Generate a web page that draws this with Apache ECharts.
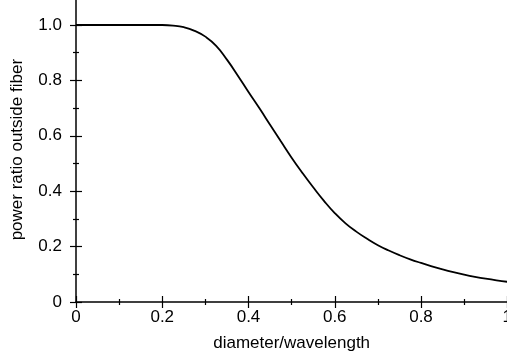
<!DOCTYPE html>
<html>
<head>
<meta charset="utf-8">
<script src="https://cdn.jsdelivr.net/npm/echarts@6/dist/echarts.min.js"></script>
<style>
html,body{margin:0;padding:0;background:#fff;}
#chart{width:507px;height:358px;}
</style>
</head>
<body>
<div id="chart"></div>
<script>
var xValues = [0, 0.05, 0.1, 0.15, 0.2, 0.225, 0.25, 0.275, 0.3, 0.325, 0.35, 0.375, 0.4, 0.425, 0.45, 0.475, 0.5, 0.525, 0.55, 0.575, 0.6, 0.625, 0.65, 0.675, 0.7, 0.725, 0.75, 0.775, 0.8, 0.825, 0.85, 0.875, 0.9, 0.925, 0.95, 0.975, 1.0];
var yValues = [1, 1, 1, 1, 1.0, 0.998, 0.992, 0.979, 0.958, 0.925, 0.875, 0.818, 0.758, 0.700, 0.640, 0.580, 0.521, 0.466, 0.414, 0.365, 0.321, 0.284, 0.254, 0.228, 0.205, 0.186, 0.169, 0.154, 0.141, 0.129, 0.118, 0.108, 0.099, 0.091, 0.084, 0.078, 0.073];
var xTickLabels = ['0', '0.2', '0.4', '0.6', '0.8', '1'];
var yTickLabels = ['0', '0.2', '0.4', '0.6', '0.8', '1.0'];
var xTitle = 'diameter/wavelength';
var yTitle = 'power ratio outside fiber';

var FONT = 'Liberation Sans, Arial, Helvetica, sans-serif';
var data = xValues.map(function (x, i) { return [x, yValues[i]]; });

function xFmt(v) { var i = Math.round(v / 0.2); return Math.abs(v - i * 0.2) < 1e-6 && xTickLabels[i] !== undefined ? xTickLabels[i] : ''; }
function yFmt(v) { var i = Math.round(v / 0.2); return Math.abs(v - i * 0.2) < 1e-6 && yTickLabels[i] !== undefined ? yTickLabels[i] : ''; }

var tickCommon = {
  axisTick: { show: true, inside: true, length: 6, lineStyle: { color: '#000', width: 1.2 } },
  minorTick: { show: true, splitNumber: 2, length: 3, lineStyle: { color: '#000', width: 1.2 } },
  splitLine: { show: false },
  minorSplitLine: { show: false }
};

var chart = echarts.init(document.getElementById('chart'), null, { renderer: 'canvas' });
chart.setOption({
  animation: false,
  backgroundColor: '#fff',
  grid: { left: 76, right: -0.25, top: -2.7, bottom: 56, containLabel: false, outerBoundsMode: 'none' },
  xAxis: [
    Object.assign({
      type: 'value', min: 0, max: 1.0, interval: 0.2, position: 'bottom',
      name: xTitle, nameLocation: 'middle', nameGap: 33,
      nameTextStyle: { fontFamily: FONT, fontSize: 17, color: '#000' },
      axisLine: { show: true, lineStyle: { color: '#000', width: 1.5 } },
      axisLabel: { show: true, formatter: xFmt, margin: 7, fontFamily: FONT, fontSize: 17, color: '#000', showMaxLabel: true, hideOverlap: false }
    }, tickCommon),
    Object.assign({
      type: 'value', min: 0, max: 1.0, interval: 0.2, position: 'top',
      axisLine: { show: false },
      axisLabel: { show: false }
    }, tickCommon)
  ],
  yAxis: [
    Object.assign({
      type: 'value', min: 0, max: 1.1, interval: 0.2, position: 'left',
      name: yTitle, nameLocation: 'middle', nameGap: 50,
      nameTextStyle: { fontFamily: FONT, fontSize: 17, color: '#000' },
      axisLine: { show: true, lineStyle: { color: '#000', width: 1.5 } },
      axisLabel: { show: true, formatter: yFmt, margin: 14, fontFamily: FONT, fontSize: 17, color: '#000' }
    }, tickCommon),
    Object.assign({
      type: 'value', min: 0, max: 1.1, interval: 0.2, position: 'right',
      axisLine: { show: false },
      axisLabel: { show: false }
    }, tickCommon)
  ],
  series: [{
    type: 'line', xAxisIndex: 0, yAxisIndex: 0,
    data: data, showSymbol: false, smooth: 0.5,
    lineStyle: { color: '#000', width: 1.8 }
  }]
});
</script>
</body>
</html>
